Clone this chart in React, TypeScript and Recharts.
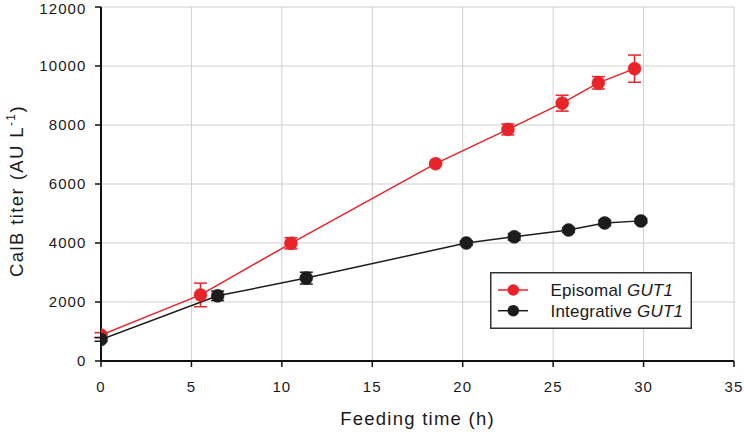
import React from 'react';
import {
  ComposedChart,
  Line,
  XAxis,
  YAxis,
  CartesianGrid,
  ErrorBar,
  Legend,
} from 'recharts';

const xTicks = [0, 5, 10, 15, 20, 25, 30, 35];
const yTicks = [0, 2000, 4000, 6000, 8000, 10000, 12000];

const episomalX = [0, 5.5, 10.5, 18.5, 22.5, 25.5, 27.5, 29.5];
const episomalY = [880, 2240, 3990, 6690, 7850, 8740, 9430, 9910];
const episomalErr = [80, 400, 190, 40, 185, 270, 210, 460];

const integrativeX = [0, 6.45, 11.35, 20.2, 22.85, 25.85, 27.85, 29.85];
const integrativeY = [730, 2210, 2810, 4000, 4210, 4440, 4680, 4750];
const integrativeErr = [60, 160, 200, 60, 110, 80, 90, 70];

const seriesNames = ['Episomal', 'Integrative'];
const geneName = 'GUT1';
const xLabel = 'Feeding time (h)';
const yLabelMain = 'CalB titer (AU L';
const yLabelSup = '-1';
const yLabelEnd = ')';

const RED = '#e8232a';
const BLACK = '#1c1c1c';
const FONT = '"Liberation Sans", Arial, sans-serif';

const episomalData = episomalX.map((x, i) => ({ x, y: episomalY[i], err: episomalErr[i] }));
const integrativeData = integrativeX.map((x, i) => ({ x, y: integrativeY[i], err: integrativeErr[i] }));

const legendColors = [RED, BLACK];

const renderLegend = () => (
  <svg width={202} height={57} style={{ display: 'block' }}>
    <rect x={0.75} y={0.75} width={200.5} height={55.5} fill="#fff" stroke="#333" strokeWidth={1.5} />
    {seriesNames.map((name, i) => {
      const cy = 18 + i * 20.7;
      return (
        <g key={name}>
          <line x1={8} y1={cy} x2={38} y2={cy} stroke={legendColors[i]} strokeWidth={1.5} />
          <circle cx={23.3} cy={cy} r={5.8} fill={legendColors[i]} />
          <text
            x={60.5}
            y={cy + 6}
            fontFamily={FONT}
            fontSize={17}
            letterSpacing={0.2}
            fill="#1a1a1a"
          >
            {name + ' '}
            <tspan fontStyle="italic">{geneName}</tspan>
          </text>
        </g>
      );
    })}
  </svg>
);

const XLabel = (props: any) => {
  const vb = props.viewBox || {};
  return (
    <text
      x={vb.x + vb.width / 2}
      y={vb.y + 64}
      textAnchor="middle"
      fontFamily={FONT}
      fontSize={18.5}
      letterSpacing={1.25}
      fill="#1a1a1a"
    >
      {xLabel}
    </text>
  );
};

const YLabel = (props: any) => {
  const cx = 22.7;
  const cy = 191;
  return (
    <text
      x={cx}
      y={cy}
      transform={`rotate(-90, ${cx}, ${cy})`}
      textAnchor="middle"
      fontFamily={FONT}
      fontSize={18.5}
      letterSpacing={1.4}
      fill="#1a1a1a"
    >
      {yLabelMain}
      <tspan fontSize={12} dy={-8}>{yLabelSup}</tspan>
      <tspan fontSize={18.5} dy={8}>{yLabelEnd}</tspan>
    </text>
  );
};

const tickStyle = { fontFamily: FONT, fontSize: 15, fill: '#1a1a1a', letterSpacing: 1.1 };

export default function App() {
  return (
    <div style={{ position: 'absolute', left: 0, top: 0, width: 744, height: 432, background: '#fff' }}>
      <ComposedChart
        width={744}
        height={432}
        margin={{ top: 7, right: 10, bottom: 0, left: 0 }}
      >
        <CartesianGrid stroke="#cfcfcf" strokeWidth={1} />
        <XAxis
          dataKey="x"
          type="number"
          domain={[0, 35]}
          ticks={xTicks}
          allowDataOverflow
          height={71}
          tickSize={6}
          tickMargin={14}
          tick={tickStyle}
          axisLine={{ stroke: '#111', strokeWidth: 2 }}
          tickLine={{ stroke: '#111', strokeWidth: 1.5 }}
          label={<XLabel />}
        />
        <XAxis
          xAxisId="top"
          orientation="top"
          type="number"
          domain={[0, 35]}
          height={0}
          tick={false}
          tickLine={false}
          axisLine={{ stroke: '#333', strokeWidth: 1.5 }}
        />
        <YAxis
          type="number"
          domain={[0, 12000]}
          ticks={yTicks}
          allowDataOverflow
          width={101}
          tickSize={6}
          tickMargin={8.5}
          tick={tickStyle}
          axisLine={{ stroke: '#111', strokeWidth: 2 }}
          tickLine={{ stroke: '#111', strokeWidth: 1.5 }}
          label={<YLabel />}
        />
        <YAxis
          yAxisId="right"
          orientation="right"
          type="number"
          domain={[0, 12000]}
          width={0}
          tick={false}
          tickLine={false}
          axisLine={{ stroke: '#333', strokeWidth: 1.5 }}
        />
        <Legend
          layout="vertical"
          align="center"
          verticalAlign="middle"
          content={renderLegend}
          wrapperStyle={{ left: 490, top: 272, width: 202, height: 57 }}
        />
        <Line
          data={episomalData}
          dataKey="y"
          name={seriesNames[0]}
          stroke={RED}
          strokeWidth={1.5}
          dot={{ r: 6.5, fill: RED, stroke: RED, strokeWidth: 0.5 }}
          activeDot={false}
          isAnimationActive={false}
        >
          <ErrorBar dataKey="err" direction="y" width={6.5} stroke={RED} strokeWidth={1.5} />
        </Line>
        <Line
          data={integrativeData}
          dataKey="y"
          name={seriesNames[1]}
          stroke={BLACK}
          strokeWidth={1.5}
          dot={{ r: 6.5, fill: BLACK, stroke: BLACK, strokeWidth: 0.5 }}
          activeDot={false}
          isAnimationActive={false}
        >
          <ErrorBar dataKey="err" direction="y" width={6.5} stroke={BLACK} strokeWidth={1.5} />
        </Line>
      </ComposedChart>
    </div>
  );
}
